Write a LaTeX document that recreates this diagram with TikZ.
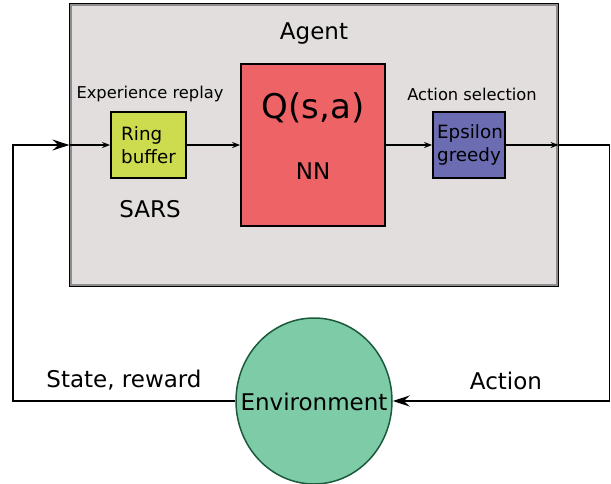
\documentclass[tikz,border=0pt]{standalone}
\usepackage{fontspec}
\setmainfont{DejaVu Sans}
\usetikzlibrary{shapes.geometric,arrows.meta}
\definecolor{agentfill}{HTML}{E1DEDD}
\definecolor{agentdraw}{HTML}{8E8C8C}
\definecolor{ringfill}{HTML}{CDDC4E}
\definecolor{qfill}{HTML}{EE6366}
\definecolor{epsfill}{HTML}{6B6CB1}
\definecolor{envfill}{HTML}{7ECBA8}
\definecolor{envdraw}{HTML}{1C5A3C}
\tikzset{
  box/.style={draw=black, line width=1.8pt, inner sep=0pt},
  big/.style={font=\fontsize{23}{26}\selectfont},
  small/.style={font=\fontsize{16.3}{19}\selectfont},
  mid/.style={font=\fontsize{18.3}{23}\selectfont, align=left},
  conn/.style={line width=1.8pt, -{Stealth[length=8pt,width=6pt]}},
  bigconn/.style={line width=1.8pt, -{Stealth[length=17pt,width=11pt,inset=6pt]}},
  plain/.style={line width=1.8pt},
}
\begin{document}
\begin{tikzpicture}[x=1pt,y=-1pt]
\useasboundingbox (0,0) rectangle (611,483);
\node[draw=black, fill=agentfill, line width=1.2pt, minimum width=488pt, minimum height=282pt, inner sep=0pt] (agent) at (314,145) {};
\draw[agentdraw, line width=2.4pt] ([xshift=1.5pt,yshift=-1.5pt]agent.north west) rectangle ([xshift=-1.5pt,yshift=1.5pt]agent.south east);
\node[big] (agentlbl) at (314,34) {Agent};
\node[box, fill=ringfill, minimum width=75pt, minimum height=66pt] (ring) at (148.5,145) {};
\node[mid] (ringlbl) at (148.5,145) {Ring\\buffer};
\node[small] (exp) at (150,94) {Experience replay};
\node[big] (sars) at (150,209) {SARS};
\node[box, fill=qfill, minimum width=144pt, minimum height=162pt] (q) at (313,145) {};
\node[font=\fontsize{34}{37}\selectfont] (qlbl) at (313,108) {Q(s,a)};
\node[big] (nn) at (313,171) {NN};
\node[box, fill=epsfill, minimum width=72pt, minimum height=66pt] (eps) at (469,145) {};
\node[mid] (epslbl) at (470,145) {Epsilon\\greedy};
\node[small] (actsel) at (472,94) {Action selection};
\node[ellipse, draw=envdraw, fill=envfill, line width=1.5pt, minimum width=156pt, minimum height=166pt, inner sep=0pt] (env) at (314,401) {};
\node[big] (envlbl) at (314,402) {Environment};
\node[big] (state) at (124,380) {State, reward};
\node[big] (action) at (506,381) {Action};
\coordinate (bl) at (13,401);
\coordinate (tl) at (13,145);
\coordinate (tr) at (609.5,145);
\coordinate (br) at (609.5,401);
\draw[bigconn] (env.west) -- (bl) -- (tl) -- (agent.west);
\draw[conn] (agent.west) -- (ring.west);
\draw[conn] (ring.east) -- (q.west);
\draw[conn] (q.east) -- (eps.west);
\draw[conn] (eps.east) -- (agent.east);
\draw[bigconn] (agent.east) -- (tr) -- (br) -- (env.east);
\end{tikzpicture}
\end{document}
